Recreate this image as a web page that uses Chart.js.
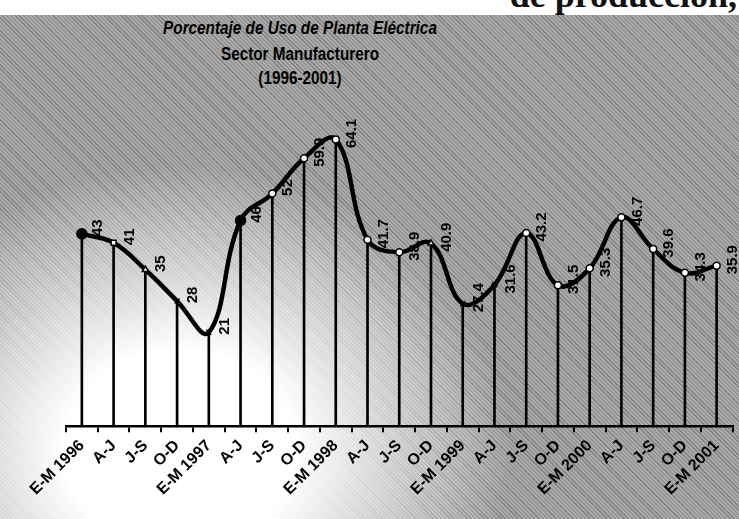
<!DOCTYPE html>
<html>
<head>
<meta charset="utf-8">
<script src="https://cdn.jsdelivr.net/npm/chart.js@4.4.1/dist/chart.umd.min.js"></script>
<style>
html, body { margin: 0; padding: 0; width: 739px; height: 519px; overflow: hidden; }
body {
  position: relative;
  background:
    linear-gradient(#fff 0, #fff 15px, rgba(255,255,255,0) 15px),
    radial-gradient(ellipse 330px 285px at 180px 450px, rgba(255,255,255,1) 35%, rgba(255,255,255,0) 100%),
    repeating-linear-gradient(45deg, rgba(0,0,0,0.22) 0, rgba(0,0,0,0.22) 1px, rgba(0,0,0,0) 1px, rgba(0,0,0,0) 3px),
    #a9a9a9;
}
.pagetext {
  position: absolute; top: -26px; right: 2px;
  font: bold 36px 'Liberation Serif', serif; color: #111; white-space: nowrap;
}
.title {
  position: absolute; left: 0; width: 600px; text-align: center;
  font-family: 'Liberation Sans', Arial, sans-serif;
  font-weight: bold; color: #000; font-size: 18px; line-height: 20px;
  transform: scaleX(0.85); transform-origin: 300px 0;
}
#wrap { position: absolute; left: 0; top: 0; width: 739px; height: 519px; }
</style>
</head>
<body>
<div class="pagetext">de producción,</div>
<div class="title" style="top:18px; font-style:italic;">Porcentaje de Uso de Planta Eléctrica</div>
<div class="title" style="top:44px;">Sector Manufacturero</div>
<div class="title" style="top:68px;">(1996-2001)</div>
<div id="wrap"><canvas id="chart" width="739" height="519"></canvas></div>
<script>
// trimestres: E-M, A-J, J-S, O-D
const categories = [
  'E-M 1996', 'A-J', 'J-S', 'O-D',
  'E-M 1997', 'A-J', 'J-S', 'O-D',
  'E-M 1998', 'A-J', 'J-S', 'O-D',
  'E-M 1999', 'A-J', 'J-S', 'O-D',
  'E-M 2000', 'A-J', 'J-S', 'O-D',
  'E-M 2001'
];
const usage = [
  43, 41, 35, 28,
  21, 46, 52, 59.9,
  64.1, 41.7, 38.9, 40.9,
  27.4, 31.6, 43.2, 31.5,
  35.3, 46.7, 39.6, 34.3,
  35.9
];
const markerStyles = ['circle', 'rect', 'triangle', 'crossRot', 'crossRot', 'circle', 'circle',
  'circle', 'circle', 'circle', 'circle', 'triangle', 'crossRot', 'star', 'circle', 'circle',
  'circle', 'circle', 'circle', 'circle', 'circle'];

const fontFamily = "'Liberation Sans', Arial, sans-serif";

// etiquetas verticales junto a cada punto
const valueLabels = {
  id: 'valueLabels',
  afterDatasetsDraw(chart) {
    const meta = chart.getDatasetMeta(1);
    const ctx = chart.ctx;
    ctx.save();
    ctx.font = "bold 15px " + fontFamily;
    ctx.fillStyle = '#000';
    ctx.textAlign = 'center';
    ctx.textBaseline = 'middle';
    meta.data.forEach((pt, i) => {
      ctx.save();
      ctx.translate(pt.x + 16, pt.y - 6);
      ctx.rotate(-Math.PI / 2);
      ctx.fillText(String(usage[i]), 0, 0);
      ctx.restore();
    });
    ctx.restore();
  }
};

new Chart(document.getElementById('chart'), {
  type: 'bar',
  data: {
    labels: categories,
    datasets: [
      {
        type: 'bar',
        data: usage,
        backgroundColor: '#000',
        barThickness: 2,
        order: 2
      },
      {
        type: 'line',
        data: usage,
        borderColor: '#000',
        borderWidth: 4.5,
        tension: 0.4,
        pointStyle: markerStyles,
        pointRadius: usage.map((v, i) => (i === 0 || i === 5) ? 5 : 3.5),
        pointBackgroundColor: usage.map((v, i) => (i === 0 || i === 5) ? '#000' : '#fff'),
        pointBorderColor: '#000',
        pointBorderWidth: 1.5,
        order: 1
      }
    ]
  },
  options: {
    responsive: false,
    animation: false,
    layout: { padding: { left: 66, right: 0, top: 113, bottom: 16 } },
    plugins: {
      legend: { display: false },
      tooltip: { enabled: false }
    },
    scales: {
      x: {
        offset: true,
        grid: { offset: true, drawOnChartArea: false, drawTicks: true, tickLength: 6, color: '#000', lineWidth: 2 },
        border: { display: true, color: '#000', width: 2.5 },
        ticks: {
          color: '#000',
          font: { family: fontFamily, size: 16, weight: 'bold' },
          minRotation: 45,
          maxRotation: 45,
          autoSkip: false,
          padding: 4
        }
      },
      y: {
        display: false,
        min: 0,
        max: 70
      }
    }
  },
  plugins: [valueLabels]
});
</script>
</body>
</html>
